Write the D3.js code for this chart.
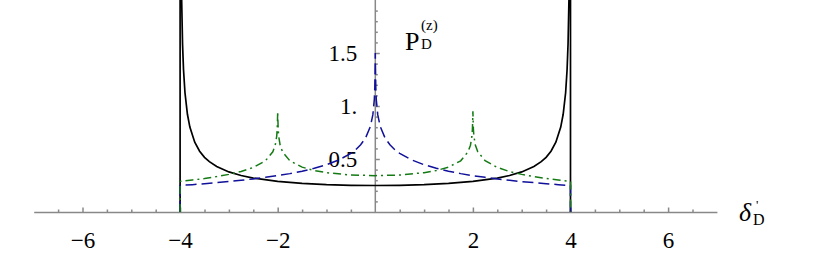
<!DOCTYPE html>
<html>
<head>
<meta charset="utf-8">
<script src="https://cdn.jsdelivr.net/npm/d3@7"></script>
<style>
  body { margin: 0; background: #fff; }
  svg { display: block; }
</style>
</head>
<body>
<script>

// solid black curve
var blackX = [-4, -3.999, -3.99, -3.97, -3.95, -3.93, -3.9, -3.85, -3.8, -3.7, -3.6, -3.5, -3.4, -3.25, -3, -2.75, -2.5, -2, -1.5, -1, -0.5,
  0, 0.5, 1, 1.5, 2, 2.5, 2.75, 3, 3.25, 3.4, 3.5, 3.6, 3.7, 3.8, 3.85, 3.9, 3.93, 3.95, 3.97, 3.99, 3.999, 4];
var blackY = [0, 11.18, 3.54, 2.045, 1.586, 1.342, 1.125, 0.922, 0.801, 0.658, 0.574, 0.516, 0.475, 0.429, 0.378, 0.344, 0.320, 0.289, 0.270, 0.258, 0.252,
  0.250, 0.252, 0.258, 0.270, 0.289, 0.320, 0.344, 0.378, 0.429, 0.475, 0.516, 0.574, 0.658, 0.801, 0.922, 1.125, 1.342, 1.586, 2.045, 3.54, 11.18, 0];

// blue dashed curve
var blueX = [-4, -4, -3.75, -3.5, -3.25, -3, -2.75, -2.5, -2.25, -2, -1.75, -1.5, -1.25, -1, -0.75, -0.5, -0.4, -0.3, -0.2, -0.1, -0.05, -0.02, -0.01, -0.003,
  0, 0.003, 0.01, 0.02, 0.05, 0.1, 0.2, 0.3, 0.4, 0.5, 0.75, 1, 1.25, 1.5, 1.75, 2, 2.25, 2.5, 2.75, 3, 3.25, 3.5, 3.75, 4, 4];
var blueY = [0, 0.250, 0.258, 0.267, 0.277, 0.287, 0.299, 0.312, 0.327, 0.343, 0.362, 0.385, 0.412, 0.446, 0.490, 0.553, 0.588, 0.634, 0.698, 0.808, 0.918, 1.064, 1.174, 1.366,
  1.50, 1.366, 1.174, 1.064, 0.918, 0.808, 0.698, 0.634, 0.588, 0.553, 0.490, 0.446, 0.412, 0.385, 0.362, 0.343, 0.327, 0.312, 0.299, 0.287, 0.277, 0.267, 0.258, 0.250, 0];

// green dot-dashed curve
var greenX = [-4, -4, -3.75, -3.5, -3.25, -3, -2.75, -2.5, -2.25, -2.1, -2.05, -2.02, -2.01, -2.003, -2, -1.997, -1.99, -1.98, -1.95, -1.9, -1.75, -1.5, -1.25, -1, -0.5,
  0, 0.5, 1, 1.25, 1.5, 1.75, 1.9, 1.95, 1.98, 1.99, 1.997, 2, 2.003, 2.01, 2.02, 2.05, 2.1, 2.25, 2.5, 2.75, 3, 3.25, 3.5, 3.75, 4, 4];
var greenY = [0, 0.289, 0.302, 0.316, 0.334, 0.355, 0.382, 0.420, 0.484, 0.568, 0.632, 0.716, 0.779, 0.890, 0.95, 0.889, 0.779, 0.715, 0.630, 0.567, 0.483, 0.423, 0.391, 0.371, 0.349,
  0.343, 0.349, 0.371, 0.391, 0.423, 0.483, 0.567, 0.630, 0.715, 0.779, 0.889, 0.95, 0.890, 0.779, 0.716, 0.632, 0.568, 0.484, 0.420, 0.382, 0.355, 0.334, 0.316, 0.302, 0.289, 0];

var xTicks = [-6, -4, -2, 2, 4, 6];
var xMinor = [-6.5, -5.5, -5, -4.5, -3.5, -3, -2.5, -1.5, -1, -0.5, 0.5, 1, 1.5, 2.5, 3, 3.5, 4.5, 5, 5.5, 6.5];
var yTicks = [0.5, 1, 1.5];
var yTickLabels = ["0.5", "1.", "1.5"];
var yMinor = [0.1, 0.2, 0.3, 0.4, 0.6, 0.7, 0.8, 0.9, 1.1, 1.2, 1.3, 1.4, 1.6, 1.7, 1.8, 1.9];

var width = 830, height = 257;
var axisColor = "#888";
var serif = "'Liberation Serif', 'Times New Roman', serif";

var svg = d3.select("body").append("svg").attr("width", width).attr("height", height);

var x = d3.scaleLinear().domain([-7, 7]).range([33.7, 716.9]);
var y = d3.scaleLinear().domain([0, 2]).range([212, 0]);

svg.append("clipPath").attr("id", "plotclip")
  .append("rect").attr("x", 0).attr("y", y(2)).attr("width", width).attr("height", y(0) - y(2) + 1);

// x axis, ticks pointing up
var xAxisG = svg.append("g").attr("transform", "translate(0," + y(0) + ")");
xAxisG.call(d3.axisBottom(x).tickValues(xMinor).tickSizeInner(-2.5).tickSizeOuter(0).tickFormat(""));
var xMajorG = svg.append("g").attr("transform", "translate(0," + y(0) + ")")
  .call(d3.axisBottom(x).tickValues(xTicks).tickSizeInner(-4.5).tickSizeOuter(0)
    .tickFormat(function(d){ return d < 0 ? "\u2212" + (-d) : "" + d; }));
xMajorG.select(".domain").remove();
xMajorG.attr("font-family", serif).attr("font-size", 23);
xMajorG.selectAll("text").attr("y", 36).attr("dy", 0);

// y axis, ticks pointing right, labels on the left
var yAxisG = svg.append("g").attr("transform", "translate(" + x(0) + ",0)");
yAxisG.call(d3.axisLeft(y).tickValues(yMinor).tickSizeInner(-2.5).tickSizeOuter(0).tickFormat(""));
yAxisG.select(".domain").attr("d", "M0," + y(0) + "V" + y(2));
var yMajorG = svg.append("g").attr("transform", "translate(" + x(0) + ",0)")
  .call(d3.axisLeft(y).tickValues(yTicks).tickSizeInner(-4.5).tickSizeOuter(0).tickPadding(18)
    .tickFormat(function(d, i){ return yTickLabels[i]; }));
yMajorG.select(".domain").remove();
yMajorG.attr("font-family", serif).attr("font-size", 23);
yMajorG.selectAll("text").attr("dy", "0.34em");

svg.selectAll(".domain, .tick line").attr("stroke", axisColor).attr("stroke-width", 1.5);

var line = d3.line()
  .x(function(d){ return x(d[0]); })
  .y(function(d){ return y(d[1]); });

var plot = svg.append("g").attr("clip-path", "url(#plotclip)");

plot.append("path").datum(d3.zip(blackX, blackY))
  .attr("d", line).attr("fill", "none").attr("stroke", "#000").attr("stroke-width", 1.7);

plot.append("path").datum(d3.zip(blueX, blueY))
  .attr("d", line).attr("fill", "none").attr("stroke", "#10109a").attr("stroke-width", 1.5)
  .attr("stroke-dasharray", "11,5");

plot.append("path").datum(d3.zip(greenX, greenY))
  .attr("d", line).attr("fill", "none").attr("stroke", "#147a14").attr("stroke-width", 1.5)
  .attr("stroke-dasharray", "8,4,2,4");

// axis labels
var pLab = svg.append("text").attr("x", 405).attr("y", 50)
  .attr("font-family", serif).attr("font-size", 26);
pLab.append("tspan").text("P");
pLab.append("tspan").attr("font-size", 15).attr("x", 421).attr("y", 49).text("D");
pLab.append("tspan").attr("font-size", 15).attr("x", 421).attr("y", 30).text("(z)");

var dLab = svg.append("text").attr("x", 739).attr("y", 221)
  .attr("font-family", serif).attr("font-size", 26);
dLab.append("tspan").attr("font-style", "italic").text("\u03b4");
dLab.append("tspan").attr("font-size", 13).attr("x", 756).attr("y", 209).text("'");
dLab.append("tspan").attr("font-size", 16).attr("x", 753).attr("y", 225).text("D");

</script>
</body>
</html>
